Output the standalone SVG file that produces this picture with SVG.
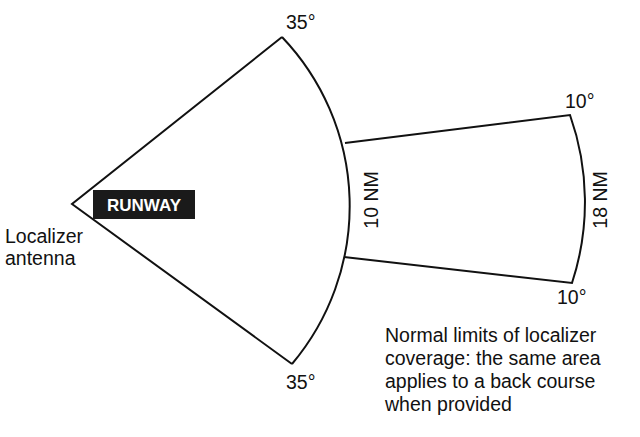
<svg xmlns="http://www.w3.org/2000/svg" width="640" height="437" viewBox="0 0 640 437">
<style>
.l{fill:none;stroke:#111;stroke-width:2}
.t{font-family:"Liberation Sans",Arial,sans-serif;font-size:19.5px;fill:#111}
</style>
<rect width="640" height="437" fill="#fff"/>
<g id="connectors">
<path class="l" d="M282,37 L72,204 L292,364"/>
<path class="l" d="M282,37 A245 245 0 0 1 292,364"/>
<path class="l" d="M345,143 L570,115 A260 260 0 0 1 572,283 L344,257"/>
</g>
<g id="runway">
<rect x="93" y="190" width="102" height="29" fill="#1a1a1a"/>
<text x="144" y="211" text-anchor="middle" font-family="Liberation Sans,Arial,sans-serif" font-weight="bold" font-size="17" fill="#fff">RUNWAY</text>
</g>
<g id="labels">
<text class="t" x="5" y="243">Localizer</text>
<text class="t" x="5" y="265">antenna</text>
<text class="t" x="286" y="29">35°</text>
<text class="t" x="286" y="389">35°</text>
<text class="t" x="565" y="108">10°</text>
<text class="t" x="557" y="304">10°</text>
<text class="t" transform="translate(378,200) rotate(-90)" text-anchor="middle">10 NM</text>
<text class="t" transform="translate(607,200) rotate(-90)" text-anchor="middle">18 NM</text>
<text class="t" x="385" y="342">Normal limits of localizer</text>
<text class="t" x="385" y="365">coverage: the same area</text>
<text class="t" x="385" y="388">applies to a back course</text>
<text class="t" x="385" y="411">when provided</text>
</g>
</svg>
